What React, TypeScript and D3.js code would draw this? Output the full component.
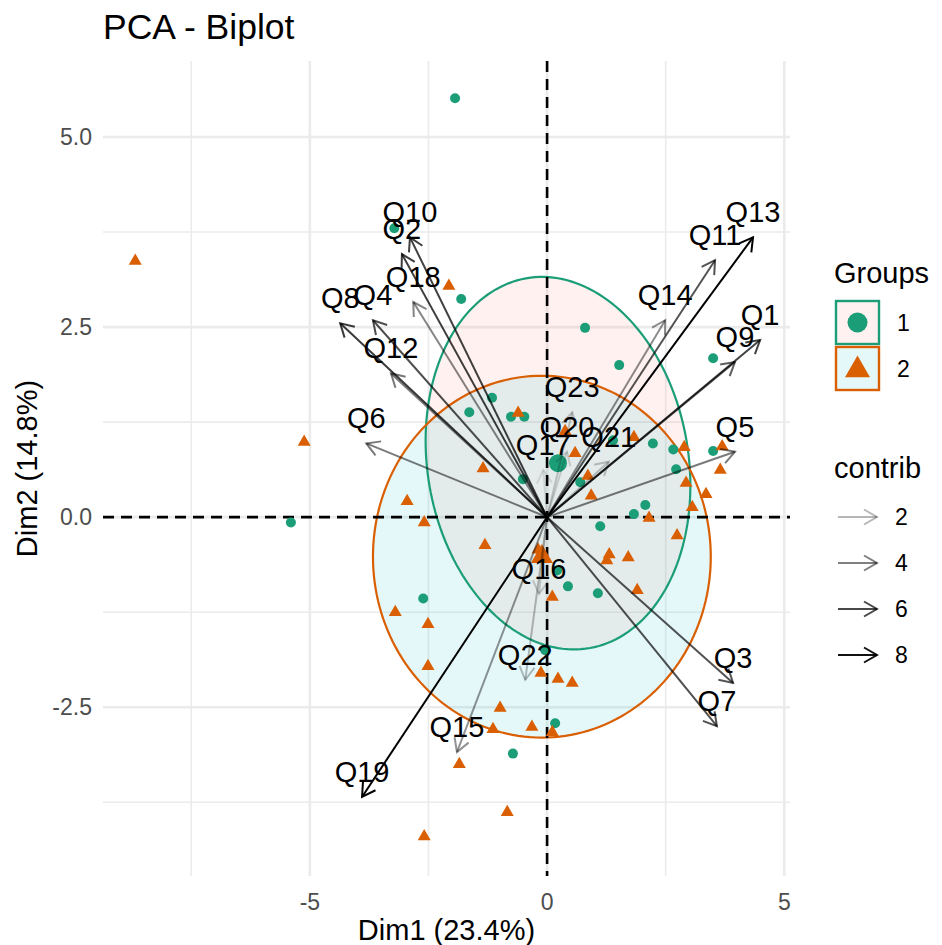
import * as d3 from 'd3';

// variables (arrow tips, already on the biplot scale)
const varNames = ['Q1', 'Q2', 'Q3', 'Q4', 'Q5', 'Q6', 'Q7', 'Q8', 'Q9', 'Q10', 'Q11', 'Q12',
  'Q13', 'Q14', 'Q15', 'Q16', 'Q17', 'Q18', 'Q19', 'Q20', 'Q21', 'Q22', 'Q23'];
const varDim1 = [4.49, -3.06, 3.92, -3.67, 3.96, -3.81, 3.58, -4.36, 3.96, -2.89, 3.54, -3.29,
  4.34, 2.49, -1.9, -0.17, -0.08, -2.82, -3.9, 0.42, 1.3, -0.46, 0.53];
const varDim2 = [2.33, 3.46, -2.18, 2.59, 0.86, 0.97, -2.75, 2.55, 2.04, 3.68, 3.38, 1.89,
  3.68, 2.59, -3.09, -1.01, 0.62, 2.83, -3.68, 0.86, 0.73, -2.14, 1.38];
const varContrib = [6.2, 6.4, 5.6, 5.8, 4.2, 4.2, 5.7, 6.5, 5.2, 6.3, 5.6, 4.3,
  8.6, 3.5, 3.3, 1.0, 0.3, 3.8, 8.6, 0.8, 1.4, 1.8, 1.2];

// individuals, group 1
const g1Dim1 = [-1.94, -3.22, -1.81, 0.8, 1.52, 3.5, -1.64, -1.16, -0.76, -0.48, -0.51, 0.7, 1.39, 2.23,
  2.66, 2.72, 3.5, 2.07, 1.83, 1.12, 0.44, 1.07, 0.21, -2.61, -0.04, 0.17, -0.72, -5.4];
const g1Dim2 = [5.51, 3.8, 2.87, 2.49, 2.0, 2.09, 1.38, 1.57, 1.32, 1.32, 0.5, 0.46, 1.01, 0.97,
  0.89, 0.63, 0.87, 0.16, 0.04, -0.12, -0.91, -1.0, -0.7, -1.07, -1.75, -2.71, -3.11, -0.07];

// individuals, group 2
const g2Dim1 = [-8.68, -5.12, -2.07, -2.95, -2.59, -0.61, -1.35, 0.59, 0.38, 0.86, 0.93, 1.83, 2.89,
  2.93, 3.06, 3.35, 3.69, 3.65, 2.15, 2.74, 1.31, 1.26, 1.71, 1.9, -1.31, 0.11, -0.19, -2.51, -3.2,
  -2.51, -0.13, 0.23, 0.53, -0.99, -1.14, -0.32, 0.11, -1.85, -0.84, -2.59];
const g2Dim2 = [3.37, 0.99, 3.04, 0.21, -0.07, 1.37, 0.64, 0.84, 1.13, 0.54, 0.28, 1.05, 0.92,
  0.45, 0.13, 0.3, 0.93, 0.62, -0.01, -0.24, -0.49, -0.57, -0.53, -0.96, -0.37, -1.05, -0.43, -1.41,
  -1.25, -1.96, -2.05, -2.13, -2.18, -2.51, -2.79, -2.76, -2.83, -3.25, -3.88, -4.2];

const groupNames = ['1', '2'];
const groupColors = ['#1B9E77', '#D95F02'];
const ellipseFills = ['#F8766D', '#00BFC4'];
const groupMeanX = [0.23, -0.11];
const groupMeanY = [0.71, -0.52];
const ellipseRadX = [2.79, 3.56];
const ellipseRadY = [2.45, 2.38];
const ellipseRho = [-0.12, 0];

const xMajor = [-5, 0, 5];
const xMinor = [-7.5, -2.5, 2.5];
const yMajor = [-2.5, 0, 2.5, 5];
const yMinor = [-3.75, -1.25, 1.25, 3.75];
const yTickLabels = ['-2.5', '0.0', '2.5', '5.0'];
const contribBreaks = [2, 4, 6, 8];

const W = 942;
const H = 945;
const font = '"Liberation Sans", Arial, sans-serif';

const x = d3.scaleLinear().domain([-9.36, 5.12]).range([103, 790]);
const y = d3.scaleLinear().domain([-4.72, 6.0]).range([876, 61]);
const alpha = d3.scaleLinear()
  .domain(d3.extent(varContrib) as [number, number])
  .range([0.1, 1]);

function arrowHead(x0: number, y0: number, x1: number, y1: number, len = 15) {
  const a = Math.atan2(y1 - y0, x1 - x0);
  const ang = Math.PI / 6;
  const p1 = [x1 - len * Math.cos(a - ang), y1 - len * Math.sin(a - ang)];
  const p2 = [x1 - len * Math.cos(a + ang), y1 - len * Math.sin(a + ang)];
  return `M${p1[0]},${p1[1]}L${x1},${y1}L${p2[0]},${p2[1]}`;
}

function triangle(cx: number, cy: number, s: number) {
  const h = (s * Math.sqrt(3)) / 2;
  return `M${cx},${cy - (2 * h) / 3}L${cx - s / 2},${cy + h / 3}L${cx + s / 2},${cy + h / 3}Z`;
}

function ellipsePath(i: number) {
  const line = d3.line<number>()
    .x((t) => x(groupMeanX[i] + ellipseRadX[i] * Math.cos(t)))
    .y((t) => y(groupMeanY[i] + ellipseRadY[i] *
      (ellipseRho[i] * Math.cos(t) + Math.sqrt(1 - ellipseRho[i] ** 2) * Math.sin(t))))
    .curve(d3.curveLinearClosed);
  return line(d3.range(0, 2 * Math.PI, Math.PI / 90)) || '';
}

export default function App() {
  const [x0, x1] = x.range();
  const [y0, y1] = y.range();
  return (
    <svg width={W} height={H} style={{ position: 'absolute', left: 0, top: 0, background: '#fff' }}
      fontFamily={font}>
      <text x={103} y={39} fontSize={35.5} fill="#000">PCA - Biplot</text>

      {/* grid */}
      {xMinor.map((v) => (
        <line key={'xm' + v} x1={x(v)} x2={x(v)} y1={y1} y2={y0} stroke="#EBEBEB" strokeWidth={1.6} />
      ))}
      {yMinor.map((v) => (
        <line key={'ym' + v} x1={x0} x2={x1} y1={y(v)} y2={y(v)} stroke="#EBEBEB" strokeWidth={1.6} />
      ))}
      {xMajor.map((v) => (
        <line key={'xM' + v} x1={x(v)} x2={x(v)} y1={y1} y2={y0} stroke="#EBEBEB" strokeWidth={2.6} />
      ))}
      {yMajor.map((v) => (
        <line key={'yM' + v} x1={x0} x2={x1} y1={y(v)} y2={y(v)} stroke="#EBEBEB" strokeWidth={2.6} />
      ))}

      {/* ellipses */}
      {groupNames.map((g, i) => (
        <path key={'ef' + g} d={ellipsePath(i)} fill={ellipseFills[i]} fillOpacity={0.1} stroke="none" />
      ))}
      {groupNames.map((g, i) => (
        <path key={'es' + g} d={ellipsePath(i)} fill="none" stroke={groupColors[i]} strokeWidth={2.2} />
      ))}

      {/* reference lines */}
      <line x1={x0} x2={x1} y1={y(0)} y2={y(0)} stroke="#000" strokeWidth={2.6} strokeDasharray="11 7" />
      <line x1={x(0)} x2={x(0)} y1={y1} y2={y0} stroke="#000" strokeWidth={2.6} strokeDasharray="11 7" />

      {/* individuals */}
      {g1Dim1.map((v, i) => (
        <circle key={'p1' + i} cx={x(v)} cy={y(g1Dim2[i])} r={5} fill={groupColors[0]} />
      ))}
      {g2Dim1.map((v, i) => (
        <path key={'p2' + i} d={triangle(x(v), y(g2Dim2[i]), 13)} fill={groupColors[1]} />
      ))}
      <circle cx={x(groupMeanX[0])} cy={y(groupMeanY[0])} r={9} fill={groupColors[0]} />
      <path d={triangle(x(groupMeanX[1]), y(groupMeanY[1]), 22)} fill={groupColors[1]} />

      {/* variables */}
      {varNames.map((n, i) => {
        const tx = x(varDim1[i]);
        const ty = y(varDim2[i]);
        return (
          <g key={'v' + n} stroke="#000" strokeOpacity={alpha(varContrib[i])} strokeWidth={2} fill="none">
            <line x1={x(0)} y1={y(0)} x2={tx} y2={ty} />
            <path d={arrowHead(x(0), y(0), tx, ty)} />
          </g>
        );
      })}
      {varNames.map((n, i) => (
        <text key={'l' + n} x={x(varDim1[i])} y={y(varDim2[i]) - 15} textAnchor="middle"
          fontSize={29} fill="#000">{n}</text>
      ))}

      {/* axes */}
      {xMajor.map((v) => (
        <text key={'xt' + v} x={x(v)} y={910} textAnchor="middle" fontSize={23} fill="#4D4D4D">{v}</text>
      ))}
      {yMajor.map((v, i) => (
        <text key={'yt' + v} x={92} y={y(v) + 8} textAnchor="end" fontSize={23} fill="#4D4D4D">
          {yTickLabels[i]}
        </text>
      ))}
      <text x={(x0 + x1) / 2} y={940} textAnchor="middle" fontSize={29} fill="#000">Dim1 (23.4%)</text>
      <text transform={`translate(37,${(y0 + y1) / 2}) rotate(-90)`} textAnchor="middle" fontSize={29}
        fill="#000">Dim2 (14.8%)</text>

      {/* legend: groups */}
      <text x={834} y={283} fontSize={29} fill="#000">Groups</text>
      {groupNames.map((g, i) => {
        const top = 301 + i * 46;
        return (
          <g key={'lg' + g}>
            <rect x={836} y={top} width={43} height={43} fill="#fff" />
            <rect x={836} y={top} width={43} height={43} fill={ellipseFills[i]} fillOpacity={0.1}
              stroke={groupColors[i]} strokeWidth={2.4} />
            {i === 0
              ? <circle cx={857.5} cy={top + 21.5} r={10} fill={groupColors[0]} />
              : <path d={triangle(857.5, top + 23, 25)} fill={groupColors[1]} />}
            <text x={897} y={top + 30} fontSize={23} fill="#000">{g}</text>
          </g>
        );
      })}

      {/* legend: contrib */}
      <text x={834} y={478} fontSize={29} fill="#000">contrib</text>
      {contribBreaks.map((c, i) => {
        const cy = 517 + i * 46;
        return (
          <g key={'lc' + c}>
            <g stroke="#000" strokeOpacity={alpha(c)} strokeWidth={2} fill="none">
              <line x1={838} x2={877} y1={cy} y2={cy} />
              <path d={arrowHead(838, cy, 877, cy)} />
            </g>
            <text x={895} y={cy + 8} fontSize={23} fill="#000">{c}</text>
          </g>
        );
      })}
    </svg>
  );
}
